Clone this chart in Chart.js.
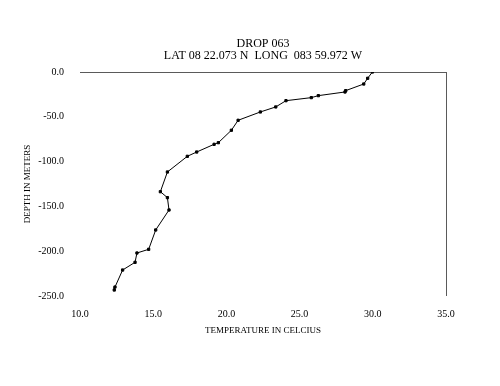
<!DOCTYPE html>
<html>
<head>
<meta charset="utf-8">
<script src="https://cdn.jsdelivr.net/npm/chart.js@4/dist/chart.umd.min.js"></script>
<style>
    html, body { margin: 0; padding: 0; background: #fff; }
    #wrap { width: 500px; height: 386px; }
</style>
</head>
<body>
<div id="wrap"><canvas id="dropChart"></canvas></div>
<script>
// drop 063 profile
const temperatures = [29.97, 29.65, 29.38, 28.15, 28.1, 26.28, 25.8, 24.07, 23.37, 22.32, 20.8, 20.34, 19.45, 19.16,
    17.97, 17.33, 15.97, 15.49, 15.97, 16.08, 15.17, 14.69, 13.89, 13.76, 12.91, 12.39, 12.34];
const depths = [0, -7, -13.4, -20.8, -22.3, -26.4, -28.6, -32, -39, -44.6, -53.9, -65, -78.9, -80.7,
    -89.3, -94.1, -111.6, -133.6, -140.2, -154, -176.3, -197.9, -202, -212.4, -221, -240, -243.3];
const tempTicks = [10, 15, 20, 25, 30, 35];
const depthTicks = [0, -50, -100, -150, -200, -250];

const titleLines = ['DROP 063', 'LAT 08 22.073 N  LONG  083 59.972 W'];

const serif = 'Liberation Serif, Times New Roman, serif';
const axisColor = '#5a5a5a';

const points = temperatures.map((t, i) => ({ x: t, y: depths[i] }));

// centre the title over the plot area instead of the whole canvas
const titleOverPlot = {
    id: 'titleOverPlot',
    afterLayout(chart) {
        if (chart.titleBlock) {
            chart.titleBlock.left = chart.chartArea.left;
            chart.titleBlock.right = chart.chartArea.right;
        }
    }
};

new Chart(document.getElementById('dropChart').getContext('2d'), {
    type: 'scatter',
    data: {
        datasets: [{
            data: points,
            showLine: true,
            borderColor: '#000',
            borderWidth: 1,
            pointStyle: 'rect',
            pointRadius: 1.6,
            pointBorderWidth: 1,
            pointBackgroundColor: '#000',
            pointBorderColor: '#000'
        }]
    },
    plugins: [titleOverPlot],
    options: {
        responsive: true,
        maintainAspectRatio: false,
        animation: false,
        layout: { padding: { left: 0, right: 54, top: 0, bottom: 0 } },
        plugins: {
            legend: { display: false },
            tooltip: { enabled: false },
            title: {
                display: true,
                text: titleLines,
                color: '#000',
                font: { family: serif, size: 12, weight: 'normal', lineHeight: '12px' },
                padding: { top: 38, bottom: 10 }
            }
        },
        scales: {
            x: {
                type: 'linear',
                position: 'bottom',
                min: 10,
                max: 35,
                afterBuildTicks: (scale) => { scale.ticks = tempTicks.map(v => ({ value: v })); },
                afterFit: (scale) => { scale.height = 90; },
                border: { display: false },
                grid: {
                    drawTicks: false,
                    color: (ctx) => ctx.tick && ctx.tick.value === 35 ? axisColor : 'transparent',
                    lineWidth: 1
                },
                ticks: {
                    padding: 12,
                    color: '#000',
                    maxRotation: 0,
                    font: { family: serif, size: 10 },
                    callback: (v) => Number(v).toFixed(1)
                },
                title: {
                    display: true,
                    text: 'TEMPERATURE IN CELCIUS',
                    color: '#000',
                    font: { family: serif, size: 9 },
                    padding: { top: 0, bottom: 50 }
                }
            },
            y: {
                type: 'linear',
                position: 'left',
                min: -250,
                max: 0,
                afterBuildTicks: (scale) => { scale.ticks = depthTicks.map(v => ({ value: v })); },
                afterFit: (scale) => { scale.width = 80; },
                border: { display: false },
                grid: {
                    drawTicks: false,
                    color: (ctx) => ctx.tick && ctx.tick.value === 0 ? axisColor : 'transparent',
                    lineWidth: 1
                },
                ticks: {
                    padding: 16,
                    color: '#000',
                    font: { family: serif, size: 10 },
                    callback: (v) => Number(v).toFixed(1)
                },
                title: {
                    display: true,
                    text: 'DEPTH IN METERS',
                    color: '#000',
                    font: { family: serif, size: 9 },
                    padding: { top: 22, bottom: 0 }
                }
            }
        }
    }
});
</script>
</body>
</html>
